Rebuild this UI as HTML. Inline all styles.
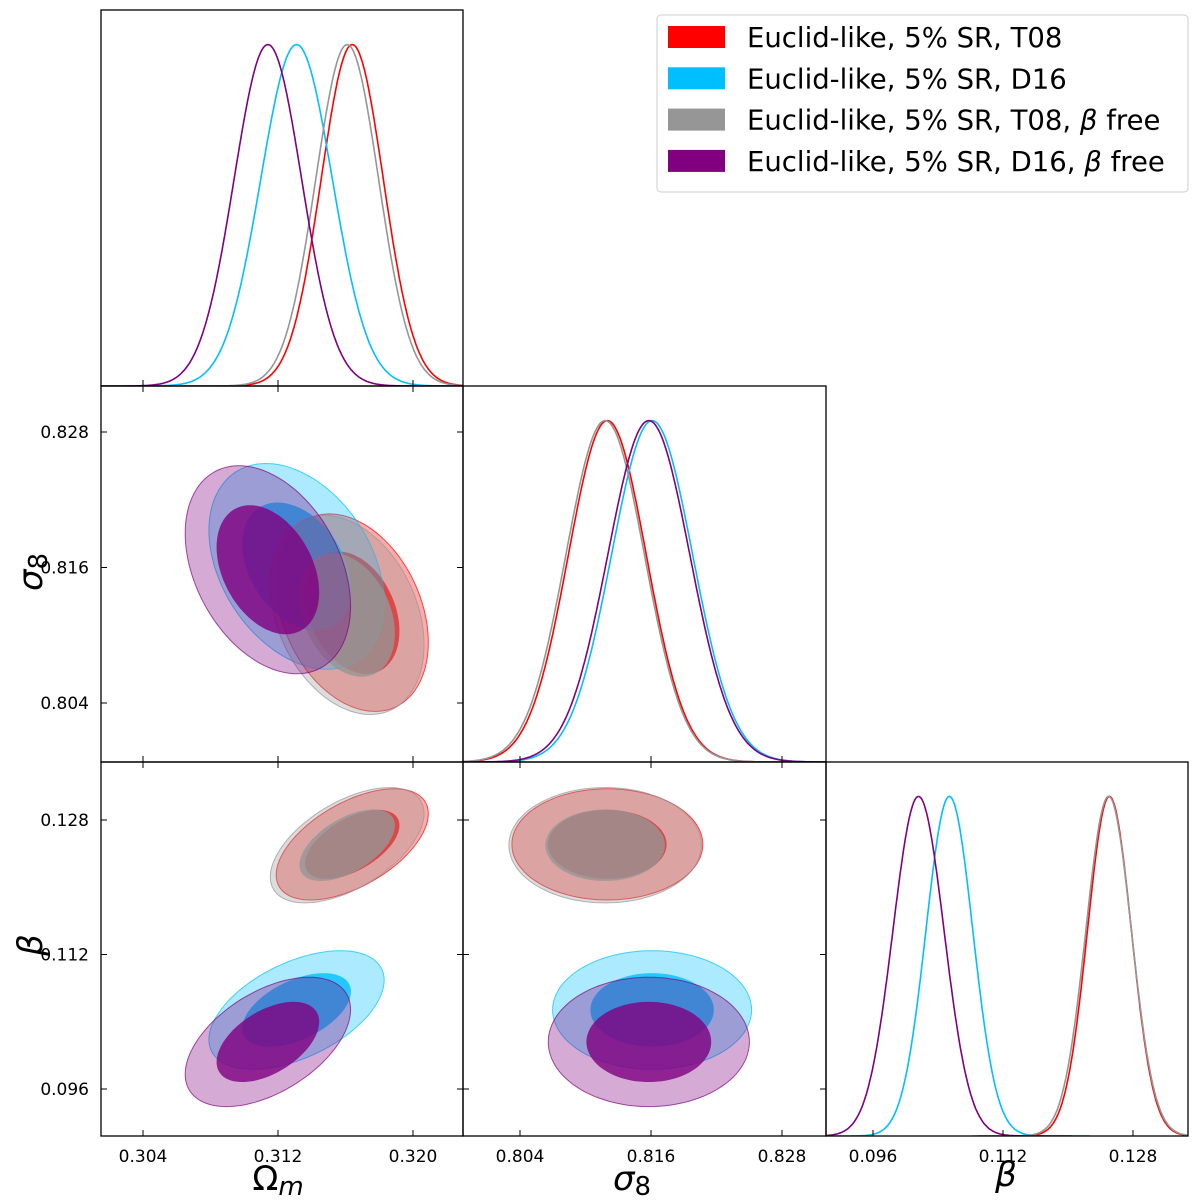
<!DOCTYPE html>
<html><head><meta charset="utf-8"><style>
body{margin:0;background:#fff}
svg{display:block;font-family:"DejaVu Sans","Liberation Sans",sans-serif}
</style></head><body>
<svg id="c" width="1200" height="1202" viewBox="0 0 1200 1202"></svg>
<script>
const seriesNames=["Euclid-like, 5% SR, T08","Euclid-like, 5% SR, D16","Euclid-like, 5% SR, T08, β free","Euclid-like, 5% SR, D16, β free"];
const seriesColors=["#ff0000","#00bfff","#969696","#800080"];
const omMean=[0.3164,0.3131,0.3161,0.3114];
const omSig=[0.00184,0.00212,0.00186,0.0020];
const s8Mean=[0.8120,0.8161,0.8118,0.8158];
const s8Sig=[0.00357,0.00372,0.0036,0.00376];
const betaMean=[0.1251,0.1054,0.1250,0.1016];
const betaSig=[0.0027,0.00288,0.0028,0.00314];
const rhoOmS8=[-0.3,-0.35,-0.3,-0.35];
const rhoOmBeta=[0.55,0.5,0.55,0.5];
const rhoS8Beta=[0.0,0.0,0.0,0.0];
const omTicks=[0.304,0.312,0.320];
const s8Ticks=[0.804,0.816,0.828];
const betaTicks=[0.096,0.112,0.128];

const NS="http://www.w3.org/2000/svg";
const svg=document.getElementById('c');
function el(t,a,p){const e=document.createElementNS(NS,t);for(const k in a)e.setAttribute(k,a[k]);(p||svg).appendChild(e);return e;}
const X={om:v=>143+(v-0.304)*16875, s8:v=>520+(v-0.804)*10917, beta:v=>873+(v-0.096)*8125};
const Y={s8:v=>432+(0.828-v)*11292, beta:v=>820+(0.128-v)*8406};
const cols=[[101,463],[463,826],[826,1188]], rows=[[10,386],[386,762],[762,1136]];
const params={om:[omMean,omSig],s8:[s8Mean,s8Sig],beta:[betaMean,betaSig]};
const ticks={om:omTicks,s8:s8Ticks,beta:betaTicks};
const defs=el('defs',{});
let cid=0;
function panel(ci,ri,name){
  const [x0,x1]=cols[ci],[y0,y1]=rows[ri];
  const cp=el('clipPath',{id:'cp'+cid},defs);el('rect',{x:x0,y:y0,width:x1-x0,height:y1-y0},cp);
  const g=el('g',{'clip-path':'url(#cp'+(cid++)+')'});
  
  
  return g;
}
function frame(ci,ri,xp,yp){
  const [x0,x1]=cols[ci],[y0,y1]=rows[ri];
  const f=el('rect',{x:x0,y:y0,width:x1-x0,height:y1-y0,fill:'none',stroke:'#000','stroke-width':1.3});
  
  
  ticks[xp].forEach(t=>{const x=X[xp](t);el('line',{x1:x,x2:x,y1:y1,y2:y1-6,stroke:'#000'});if(yp)el('line',{x1:x,x2:x,y1:y0,y2:y0+6,stroke:'#000'});});
  if(yp)ticks[yp].forEach(t=>{const y=Y[yp](t);el('line',{x1:x0,x2:x0+6,y1:y,y2:y,stroke:'#000'});el('line',{x1:x1,x2:x1-6,y1:y,y2:y,stroke:'#000'});});
}
// 1D
[['om',0],['s8',1],['beta',2]].forEach(([p,i])=>{
  const g=panel(i,i,'marginal-'+p);
  const [x0,x1]=cols[i],[y0,y1]=rows[i];const h=(y1-y0)*0.908;
  for(let s=0;s<4;s++){
    const m=params[p][0][s],sd=params[p][1][s];let d='';
    for(let k=0;k<=300;k++){const v=m-6*sd+12*sd*k/300;const px=X[p](v);const py=y1-h*Math.exp(-0.5*((v-m)/sd)**2);d+=(k?'L':'M')+px.toFixed(1)+' '+py.toFixed(1);}
    const path=el('path',{d:d,fill:'none',stroke:seriesColors[s],'stroke-width':1.6},g);
    
    
  }
  frame(i,i,p,null);
});
// 2D
function contour(g,s,px,py,rho,r){
  const mx=params[px][0][s],sx=params[px][1][s],my=params[py][0][s],sy=params[py][1][s];let d='';
  for(let k=0;k<=120;k++){const t=2*Math.PI*k/120;const vx=mx+sx*r*Math.cos(t);const vy=my+sy*r*(rho*Math.cos(t)+Math.sqrt(1-rho*rho)*Math.sin(t));d+=(k?'L':'M')+X[px](vx).toFixed(1)+' '+Y[py](vy).toFixed(1);}
  return d+'Z';
}
[['om','s8',0,1,rhoOmS8],['om','beta',0,2,rhoOmBeta],['s8','beta',1,2,rhoS8Beta]].forEach(([px,py,ci,ri,rho])=>{
  const g=panel(ci,ri,'contour-'+px+'-'+py);
  for(let s=0;s<4;s++){
    const o=el('path',{d:contour(g,s,px,py,rho[s],2.45),fill:seriesColors[s],'fill-opacity':0.33,stroke:seriesColors[s],'stroke-width':1,'stroke-opacity':0.7},g);
    
    
    const i=el('path',{d:contour(g,s,px,py,rho[s],1.52),fill:seriesColors[s],'fill-opacity':0.8},g);
    
    
  }
  frame(ci,ri,px,py);
});
// tick labels
function txt(x,y,s,a,name){const t=el('text',a);t.setAttribute('x',x);t.setAttribute('y',y);t.textContent=s;return t;}
omTicks.forEach(t=>txt(X.om(t),1162,t.toFixed(3),{'font-size':17,'text-anchor':'middle'},'x-tick-label'));
s8Ticks.forEach(t=>txt(X.s8(t),1162,t.toFixed(3),{'font-size':17,'text-anchor':'middle'},'x-tick-label'));
betaTicks.forEach(t=>txt(X.beta(t),1162,t.toFixed(3),{'font-size':17,'text-anchor':'middle'},'x-tick-label'));
s8Ticks.forEach(t=>txt(89,Y.s8(t)+6,t.toFixed(3),{'font-size':17,'text-anchor':'end'},'y-tick-label'));
betaTicks.forEach(t=>txt(89,Y.beta(t)+6,t.toFixed(3),{'font-size':17,'text-anchor':'end'},'y-tick-label'));
// axis titles
const a1=txt(278,1190,'',{'font-size':34,'text-anchor':'middle'},'x-axis-title-omega-m');a1.innerHTML='Ω<tspan font-style="italic" font-size="26" dy="5">m</tspan>';
const a2=txt(632,1190,'',{'font-size':34,'text-anchor':'middle'},'x-axis-title-sigma8');a2.innerHTML='<tspan font-style="italic">σ</tspan><tspan font-size="26" dy="5">8</tspan>';
txt(1006,1186,'β',{'font-size':34,'text-anchor':'middle','font-style':'italic'},'x-axis-title-beta');
const a4=txt(0,0,'',{'font-size':34,'text-anchor':'middle',transform:'translate(42,572) rotate(-90)'},'y-axis-title-sigma8');a4.innerHTML='<tspan font-style="italic">σ</tspan><tspan font-size="26" dy="5">8</tspan>';
txt(0,0,'β',{'font-size':34,'text-anchor':'middle','font-style':'italic',transform:'translate(42,945) rotate(-90)'},'y-axis-title-beta');
// legend
const lg=el('g',{});
el('rect',{x:657,y:15,width:531,height:177,rx:4,fill:'#fff',stroke:'#ccc','stroke-width':1},lg);
for(let s=0;s<4;s++){
  const y=37+41.3*s;
  const r=el('rect',{x:668,y:y-11,width:57,height:22,fill:seriesColors[s]},lg);
  
  const n=seriesNames[s];const t=el('text',{x:747,y:y+10,'font-size':27.5},lg);
  
  if(n.includes('β')){const [a,b]=n.split('β');t.innerHTML=a+'<tspan font-style="italic">β</tspan>'+b;}else t.textContent=n;
}
</script>
</body></html>
